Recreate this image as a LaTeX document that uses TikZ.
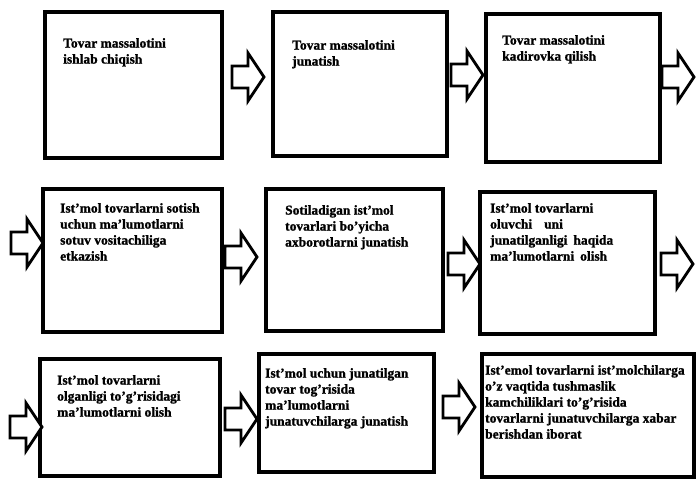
\documentclass[tikz,border=0pt]{standalone}
\usepackage{fontspec}
\setmainfont{Liberation Serif}[BoldFeatures={FakeBold=1.2}]
\begin{document}
\begin{tikzpicture}[x=1pt,y=-1pt,
  box/.style={draw=black, line width=3.2pt, inner sep=0pt},
  txt/.style={anchor=north west, inner sep=0pt, align=left, font=\bfseries\fontsize{13.5}{16}\selectfont},
  barrow/.pic={\draw[line width=2.8pt, fill=white, line join=miter]
     (-16,-11) -- (0,-11) -- (0,-24) -- (16,0) -- (0,24) -- (0,11) -- (-16,11) -- cycle;}
]
\useasboundingbox (0,0) rectangle (696,479);
% row 1
\node[box,minimum width=177pt,minimum height=146pt] (b1) at (133.5,85) {};
\node[box,minimum width=174pt,minimum height=144pt] (b2) at (360,84) {};
\node[box,minimum width=174pt,minimum height=148pt] (b3) at (573,88) {};
\node[txt] (t1) at (63,38) {Tovar massalotini\\ishlab chiqish};
\node[txt] (t2) at (292,40) {Tovar massalotini\\junatish};
\node[txt] (t3) at (502,35) {Tovar massalotini\\kadirovka qilish};
\pic at (248,77) {barrow};
\pic at (467,75) {barrow};
\pic at (678,77) {barrow};
% row 2
\node[box,minimum width=179pt,minimum height=143pt] (b4) at (132.5,260.5) {};
\node[box,minimum width=177pt,minimum height=142pt] (b5) at (354.5,260) {};
\node[box,minimum width=175pt,minimum height=142pt] (b6) at (567.5,263) {};
\node[txt] (t4) at (60,203) {Ist'mol tovarlarni sotish\\uchun ma'lumotlarni\\sotuv vositachiliga\\etkazish};
\node[txt] (t5) at (285,205) {Sotiladigan ist'mol\\tovarlari bo'yicha\\axborotlarni junatish};
\node[txt] (t6) at (490,203) {Ist'mol tovarlarni\\oluvchi\hspace{12pt}uni\\junatilganligi\hspace{6pt}haqida\\ma'lumotlarni\hspace{6pt}olish};
\pic at (27,243) {barrow};
\pic at (241,257) {barrow};
\pic at (464,264) {barrow};
\pic at (677,264) {barrow};
% row 3
\node[box,minimum width=180pt,minimum height=117pt] (b7) at (130,417.5) {};
\node[box,minimum width=175pt,minimum height=118pt] (b8) at (346.5,413) {};
\node[box,minimum width=212pt,minimum height=123pt] (b9) at (588,415.5) {};
\node[txt] (t7) at (57,375) {Ist'mol tovarlarni\\olganligi to'g'risidagi\\ma'lumotlarni olish};
\node[txt] (t8) at (265,368) {Ist'mol uchun junatilgan\\tovar tog'risida\\ma'lumotlarni\\junatuvchilarga junatish};
\node[txt] (t9) at (485,365) {Ist'emol tovarlarni ist'molchilarga\\o'z vaqtida tushmaslik\\kamchiliklari to'g'risida\\tovarlarni junatuvchilarga xabar\\berishdan iborat};
\pic at (26,427) {barrow};
\pic at (241,419) {barrow};
\pic at (459,407) {barrow};
\end{tikzpicture}
\end{document}
